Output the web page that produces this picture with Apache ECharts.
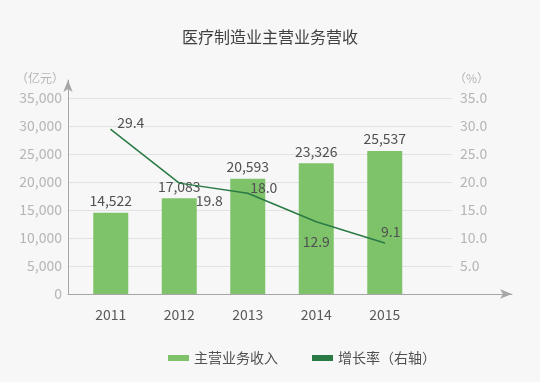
<!DOCTYPE html>
<html>
<head>
<meta charset="utf-8">
<script src="https://cdn.jsdelivr.net/npm/echarts@6/dist/echarts.min.js"></script>
<style>html,body{margin:0;padding:0;background:#f7f7f7;}#c{width:540px;height:382px;}</style>
</head>
<body>
<div id="c"></div>
<script>
const years = ['2011', '2012', '2013', '2014', '2015'];
const revenue = [14522, 17083, 20593, 23326, 25537];
const growth = [29.4, 19.8, 18.0, 12.9, 9.1];
const leftTicks = { min: 0, max: 35000, interval: 5000 };
const rightTicks = { min: 0, max: 35, interval: 5 };

const FONT = '"Noto Sans CJK SC", "Microsoft YaHei", sans-serif';
const growthLabelOffsets = [[20, -7], [30, 18], [16, -6], [0, 20], [6, -11]];
const fmtComma = v => String(v).replace(/\B(?=(\d{3})+(?!\d))/g, ',');

const chart = echarts.init(document.getElementById('c'));
chart.setOption({
  backgroundColor: '#f7f7f7',
  textStyle: { fontFamily: FONT },
  title: {
    text: '医疗制造业主营业务营收',
    left: 265, textAlign: 'center', top: 24,
    textStyle: { fontSize: 16, fontWeight: 'normal', color: '#404040', fontFamily: FONT }
  },
  legend: {
    left: 163, top: 346,
    itemWidth: 21, itemHeight: 6, itemGap: 34,
    textStyle: { fontSize: 14, color: '#505050', fontFamily: FONT },
    data: [{ name: '主营业务收入', icon: 'rect' }, { name: '增长率（右轴）', icon: 'rect' }]
  },
  grid: [
    { left: 68, top: 80, right: 28, bottom: 88 },
    { left: 68, right: 88, top: 98, bottom: 88 },
    { left: 76.5, width: 342.5, top: 98, bottom: 88 }
  ],
  xAxis: [
    { gridIndex: 0, type: 'value', min: 0, max: 1,
      axisLine: { show: true, symbol: ['none', 'arrow'], symbolSize: [7, 12], lineStyle: { color: '#a6a6a6', width: 1 } },
      axisTick: { show: false }, axisLabel: { show: false }, splitLine: { show: false } },
    { gridIndex: 1, type: 'value', min: 0, max: 1, show: false },
    { gridIndex: 2, type: 'category', data: years,
      axisLine: { show: false }, axisTick: { show: false },
      axisLabel: { fontSize: 14, color: '#595959', margin: 14, fontFamily: FONT } }
  ],
  yAxis: [
    { gridIndex: 0, type: 'value', min: 0, max: 1,
      axisLine: { show: true, symbol: ['none', 'arrow'], symbolSize: [7, 12], lineStyle: { color: '#a6a6a6', width: 1 } },
      axisTick: { show: false }, axisLabel: { show: false }, splitLine: { show: false } },
    { gridIndex: 1, type: 'value', position: 'left',
      min: leftTicks.min, max: leftTicks.max, interval: leftTicks.interval,
      name: '（亿元）', nameLocation: 'end', nameGap: 14,
      nameTextStyle: { fontSize: 12, color: '#b5b5b5', align: 'right', padding: [0, 4, 0, 0], fontFamily: FONT },
      axisLine: { show: false }, axisTick: { show: false },
      axisLabel: { fontSize: 14, color: '#b5b5b5', margin: 6, formatter: v => fmtComma(v), fontFamily: FONT },
      splitLine: { lineStyle: { color: '#e2e2e2', width: 1 } } },
    { gridIndex: 1, type: 'value', position: 'right',
      min: rightTicks.min, max: rightTicks.max, interval: rightTicks.interval,
      name: '（%）', nameLocation: 'end', nameGap: 14,
      nameTextStyle: { fontSize: 12, color: '#b5b5b5', align: 'left', padding: [0, 0, 0, 2], fontFamily: FONT },
      axisLine: { show: false }, axisTick: { show: false },
      axisLabel: { fontSize: 14, color: '#b5b5b5', margin: 8, formatter: v => v === 0 ? '' : v.toFixed(1), fontFamily: FONT },
      splitLine: { show: false } },
    { gridIndex: 2, type: 'value', min: leftTicks.min, max: leftTicks.max, show: false },
    { gridIndex: 2, type: 'value', min: rightTicks.min, max: rightTicks.max, show: false }
  ],
  series: [
    {
      name: '主营业务收入', type: 'bar', xAxisIndex: 2, yAxisIndex: 3,
      data: revenue, barWidth: 35,
      itemStyle: { color: '#7ec36a' },
      label: { show: true, position: 'top', distance: 5, fontSize: 14, color: '#505050',
               formatter: p => fmtComma(p.value), fontFamily: FONT }
    },
    {
      name: '增长率（右轴）', type: 'line', xAxisIndex: 2, yAxisIndex: 4,
      data: growth.map((v, i) => ({
        value: v,
        label: { offset: growthLabelOffsets[i] }
      })),
      symbol: 'circle', symbolSize: 1, showSymbol: true,
      lineStyle: { color: '#2a7a45', width: 1.5 },
      itemStyle: { color: '#2a7a45' },
      label: { show: true, position: 'inside', fontSize: 14, color: '#505050',
               formatter: p => p.value.toFixed(1), fontFamily: FONT }
    }
  ]
});
</script>
</body>
</html>
